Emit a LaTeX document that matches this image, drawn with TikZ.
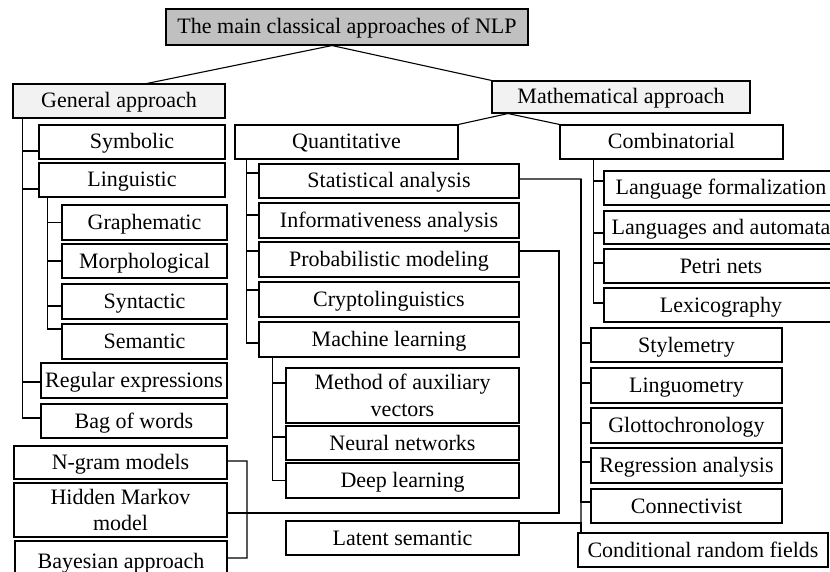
\documentclass[tikz,border=0pt]{standalone}
\usepackage{fontspec}
\setmainfont{Liberation Serif}
\definecolor{rootfill}{RGB}{192,192,192}
\definecolor{branchfill}{RGB}{242,242,242}
% box given by its corners (x1,y1)-(x2,y2), y measured downwards
\newcommand\boxnode[7][]{%
  \node[box,#1,minimum width={(#5-#3)*1bp},minimum height={(#6-#4)*1bp}]
    (#2) at ({(#3+#5)/2},{(#4+#6)/2}) {#7};}
\begin{document}
\begin{tikzpicture}[x=1bp,y=-1bp,
  box/.style={draw,line width=1.1bp,inner sep=0pt,align=center,
    text height=17bp,text depth=3bp,
    font=\fontsize{22bp}{26.5bp}\selectfont},
  twoline/.style={text height=,text depth=},
  link/.style={line width=1.1bp}]
\useasboundingbox (0,0) rectangle (830,572);
\clip (0,0) rectangle (830,572);

% top levels
\boxnode[fill=rootfill]{title}{166}{9}{528}{45}{The main classical approaches of NLP}
\boxnode[fill=branchfill]{ga}{13}{84}{225}{118}{General approach}
\boxnode[fill=branchfill]{ma}{492}{81}{750}{113}{Mathematical approach}

% general approach
\boxnode{sym}{39}{125}{225}{159}{Symbolic}
\boxnode{ling}{39}{163}{225}{197}{Linguistic}
\boxnode{graph}{62}{205}{227}{240}{Graphematic}
\boxnode{morph}{62}{244}{227}{278}{Morphological}
\boxnode{synt}{62}{284}{227}{319}{Syntactic}
\boxnode{sem}{62}{324}{227}{359}{Semantic}
\boxnode{regex}{41}{363}{227}{398}{Regular expressions}
\boxnode{bow}{41}{404}{227}{438}{Bag of words}

% quantitative
\boxnode{quant}{235}{125}{458}{159}{Quantitative}
\boxnode{stat}{259}{164}{519}{198}{Statistical analysis}
\boxnode{inf}{259}{203}{519}{238}{Informativeness analysis}
\boxnode{prob}{259}{242}{519}{277}{Probabilistic modeling}
\boxnode{crypto}{259}{282}{519}{317}{Cryptolinguistics}
\boxnode{ml}{259}{322}{519}{357}{Machine learning}
\boxnode[twoline]{mav}{286}{368}{519}{423}{Method of auxiliary\\vectors}
\boxnode{nn}{286}{426}{519}{460}{Neural networks}
\boxnode{dl}{286}{463}{519}{498}{Deep learning}
\boxnode{latent}{286}{521}{519}{555}{Latent semantic}

% combinatorial
\boxnode{comb}{560}{125}{783}{159}{Combinatorial}
\boxnode{lf}{604}{171}{838}{205}{Language formalization}
\boxnode{la}{604}{211}{838}{244}{Languages and automata}
\boxnode{petri}{604}{249}{838}{283}{Petri nets}
\boxnode{lex}{604}{288}{838}{322}{Lexicography}

% statistical methods column
\boxnode{sty}{591}{328}{782}{362}{Stylemetry}
\boxnode{lingu}{591}{368}{782}{403}{Linguometry}
\boxnode{glotto}{591}{408}{782}{443}{Glottochronology}
\boxnode{regr}{591}{448}{782}{483}{Regression analysis}
\boxnode{conn}{591}{489}{782}{523}{Connectivist}
\boxnode{crf}{578}{533}{828}{567}{Conditional random fields}

% probabilistic models
\boxnode{ngram}{14}{446}{227}{479}{N-gram models}
\boxnode[twoline]{hmm}{14}{483}{227}{537}{Hidden Markov\\model}
\boxnode{bayes}{15}{541}{227}{582}{Bayesian approach}

% junctions
\coordinate (gt) at ([xshift=10bp]ga.south west);
\coordinate (lt) at ([xshift=9bp]ling.south west);
\coordinate (qt) at ([xshift=12bp]quant.south west);
\coordinate (mt) at ([xshift=14bp]ml.south west);
\coordinate (ct) at ([xshift=34bp]comb.south west);
\coordinate (rbus) at (581,179);
\coordinate (pbus) at (559,513);
\coordinate (nbus) at (247,461);

% upper levels
\draw[link] ([xshift=-15bp]title.south) -- ([xshift=28bp]ga.north);
\draw[link] ([xshift=-15bp]title.south) -- (ma.north west);
\draw[link] ([xshift=-113bp]ma.south) -- (quant.north east);
\draw[link] ([xshift=-113bp]ma.south) -- (comb.north west);

% trees
\draw[link] (gt) |- ([yshift=-9bp]sym.west);
\draw[link] (gt) |- ([yshift=-9bp]ling.west);
\draw[link] (gt) |- ([yshift=-1.5bp]regex.west);
\draw[link] (gt) |- ([yshift=3bp]bow.west);

\draw[link] (lt) |- (graph.west);
\draw[link] (lt) |- (morph.west);
\draw[link] (lt) |- ([yshift=-4.5bp]synt.west);
\draw[link] (lt) |- ([yshift=12.5bp]sem.west);

\draw[link] (qt) |- ([yshift=8bp]stat.west);
\draw[link] (qt) |- ([yshift=5.5bp]inf.west);
\draw[link] (qt) |- ([yshift=8.5bp]prob.west);
\draw[link] (qt) |- ([yshift=9.5bp]crypto.west);
\draw[link] (qt) |- ([yshift=-3.5bp]ml.west);

\draw[link] (mt) |- ([yshift=12.5bp]mav.west);
\draw[link] (mt) |- ([yshift=6bp]nn.west);
\draw[link] (mt) |- (dl.west);

\draw[link] (ct) |- ([yshift=7bp]lf.west);
\draw[link] (ct) |- ([yshift=-5.5bp]la.west);
\draw[link] (ct) |- ([yshift=3bp]petri.west);
\draw[link] (ct) |- ([yshift=2bp]lex.west);

% cross links
\draw[link] ([yshift=2bp]stat.east) -- (rbus) -- (crf.north -| rbus);
\draw[link] ([yshift=2bp]sty.west) -| (rbus);
\draw[link] ([yshift=2.5bp]lingu.west) -| (rbus);
\draw[link] ([yshift=2.5bp]glotto.west) -| (rbus);
\draw[link] ([yshift=3.5bp]regr.west) -| (rbus);
\draw[link] ([yshift=4bp]conn.west) -| (rbus);
\draw[link] ([yshift=15bp]latent.east) -| (crf.north -| rbus);

\draw[link] ([yshift=8.5bp]prob.east) -| (pbus) -- (pbus -| hmm.east);
\draw[link] ([yshift=1.5bp]ngram.east) -- (nbus) |- ([yshift=3.5bp]bayes.east);
\end{tikzpicture}
\end{document}
